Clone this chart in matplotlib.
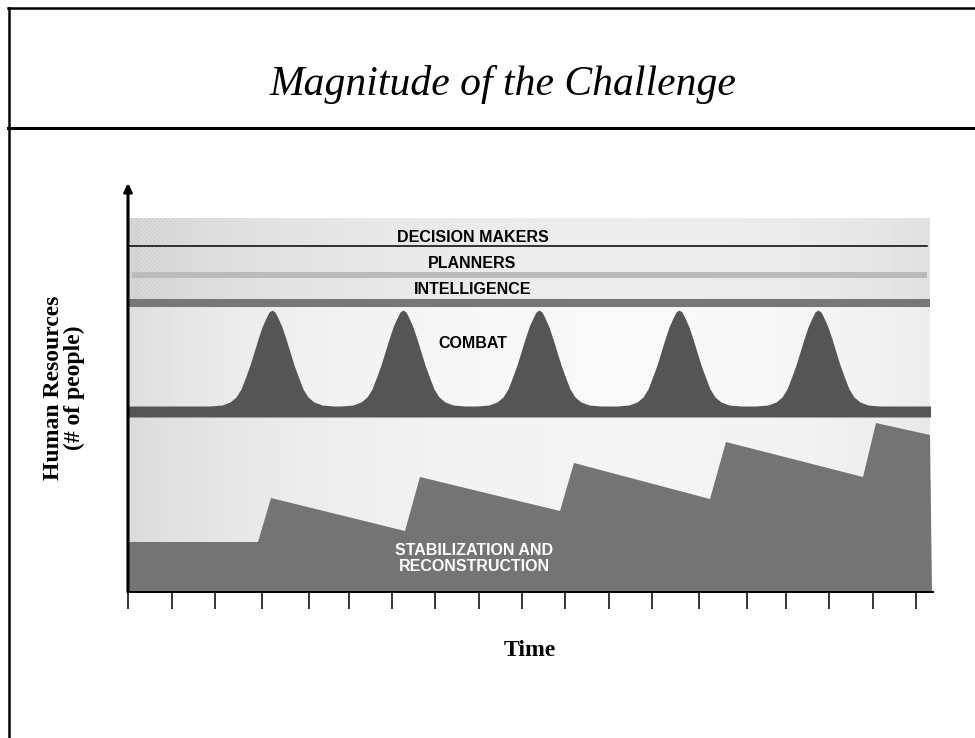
import numpy as np
import matplotlib
matplotlib.use("Agg")
import matplotlib.pyplot as plt
from matplotlib.lines import Line2D

# ---- data (time units ~ pixels from the y axis, people units ~ pixels above the x axis)
tick_times = [0, 44, 87, 134, 181, 221, 264, 307, 351, 394, 437, 481, 524, 571, 619, 658, 701, 745, 788]

band_top = 374
decision_level = 346
planners_level = 317
intel_level = 289
combat_floor = 175
combat_base = 186
time_end = 802

# combat surges: centres of the peaks, and the shape of one peak (offset, height)
peak_times = [144, 275, 411, 551, 690]
peak_offsets = [-62, -50, -42, -36, -31, -26, -22, -18, -14, -10, -6, -3, 0,
                3, 6, 10, 14, 18, 22, 26, 31, 36, 42, 50, 62]
peak_heights = [0, 1, 4, 9, 17, 30, 41, 54, 67, 79, 88, 94, 96,
                94, 88, 79, 67, 54, 41, 30, 17, 9, 4, 1, 0]

# stabilization and reconstruction: saw-tooth growth
stab_t = [0, 130, 143, 277, 292, 432, 446, 582, 598, 735, 748, 802]
stab_v = [50, 50, 94, 61, 115, 81, 129, 93, 150, 115, 169, 157]

band_labels = ["DECISION MAKERS", "PLANNERS", "INTELLIGENCE", "COMBAT"]
band_label_y = [355, 328, 302, 249]

W, H = 975, 738
fig = plt.figure(figsize=(W / 100, H / 100), dpi=100)

# slide frame
def fline(x0, y0, x1, y1, lw):
    fig.add_artist(Line2D([x0 / W, x1 / W], [1 - y0 / H, 1 - y1 / H],
                          transform=fig.transFigure, color="black", lw=lw))

fline(8, 8, 975, 8, 1.8)
fline(8.5, 8, 8.5, 738, 1.8)
fline(8, 128, 975, 128, 2.2)

fig.text(503 / W, 1 - 95 / H, "Magnitude of the Challenge", ha="center", va="baseline",
         fontsize=30, style="italic", family="Liberation Serif")

ax = fig.add_axes([128 / W, (H - 592) / H, 805 / W, 409 / H])
ax.set_xlim(0, 805)
ax.set_ylim(0, 409)

# halftone-ish background
xs = np.arange(0, time_end)
ys = np.arange(0, band_top)
X, Y = np.meshgrid(xs, ys)
dark = 0.15 * np.exp(-X / 200.0) + 0.08 * np.exp(-(time_end - X) / 120.0) + 0.015
dark = dark + 0.06 * (Y > intel_level) + 0.02 * (Y < combat_floor)
dots = 0.5 + 0.5 * np.cos(2 * np.pi * X / 4.0) * np.cos(2 * np.pi * Y / 4.0)
img = 1 - dark * (0.55 + 0.45 * dots)
ax.imshow(img, cmap="gray", vmin=0, vmax=1, origin="lower",
          extent=[0, time_end, 0, band_top], interpolation="nearest", aspect="auto", zorder=0)

# band separators
ax.plot([0, 799], [decision_level, decision_level], color="black", lw=1.1, zorder=2)
ax.plot([4, 799], [planners_level, planners_level], color="#bbbbbb", lw=4.3,
        solid_capstyle="butt", zorder=2)
ax.plot([0, time_end], [intel_level, intel_level], color="#777777", lw=5.8,
        solid_capstyle="butt", zorder=2)

# combat
ct = np.arange(0, time_end + 1, 0.5)
cv = np.full_like(ct, float(combat_base))
for p in peak_times:
    cv = np.maximum(cv, combat_base + np.interp(ct - p, peak_offsets, peak_heights, left=0, right=0))
ax.fill_between(ct, combat_floor, cv, color="#555555", lw=0, zorder=2)

# stabilization and reconstruction
ax.fill(stab_t + [804, 0], stab_v + [0, 0], color="#747474", lw=0, zorder=2)

for lab, ly in zip(band_labels, band_label_y):
    ax.text(344.5, ly, lab, ha="center", va="center", fontsize=11.5, fontweight="bold",
            family="Liberation Sans", color="black", zorder=3)
ax.text(346, 33.5, "STABILIZATION AND\nRECONSTRUCTION", ha="center", va="center",
        fontsize=11.5, fontweight="bold", family="Liberation Sans", color="white",
        linespacing=1.05, zorder=3)

# axes
for s in ["top", "right", "left"]:
    ax.spines[s].set_visible(False)
ax.spines["bottom"].set_linewidth(1.4)
ax.spines["bottom"].set_zorder(4)
ax.set_yticks([])
ax.set_xticks(tick_times)
ax.tick_params(axis="x", direction="out", length=12.2, width=1.1, labelbottom=False)
ax.annotate("", xy=(0, 409), xytext=(0, 0), annotation_clip=False,
            arrowprops=dict(arrowstyle="-|>", lw=2.2, color="black", mutation_scale=12,
                            shrinkA=0, shrinkB=0), zorder=5)

fig.text(530 / W, 1 - 656 / H, "Time", ha="center", va="baseline", fontsize=17,
         fontweight="bold", family="Liberation Serif")
fig.text(64 / W, 1 - 388 / H, "Human Resources\n(# of people)", ha="center", va="center",
         rotation=90, fontsize=17, fontweight="bold", family="Liberation Serif", linespacing=1.0)

fig.savefig("out.png", dpi=100)
